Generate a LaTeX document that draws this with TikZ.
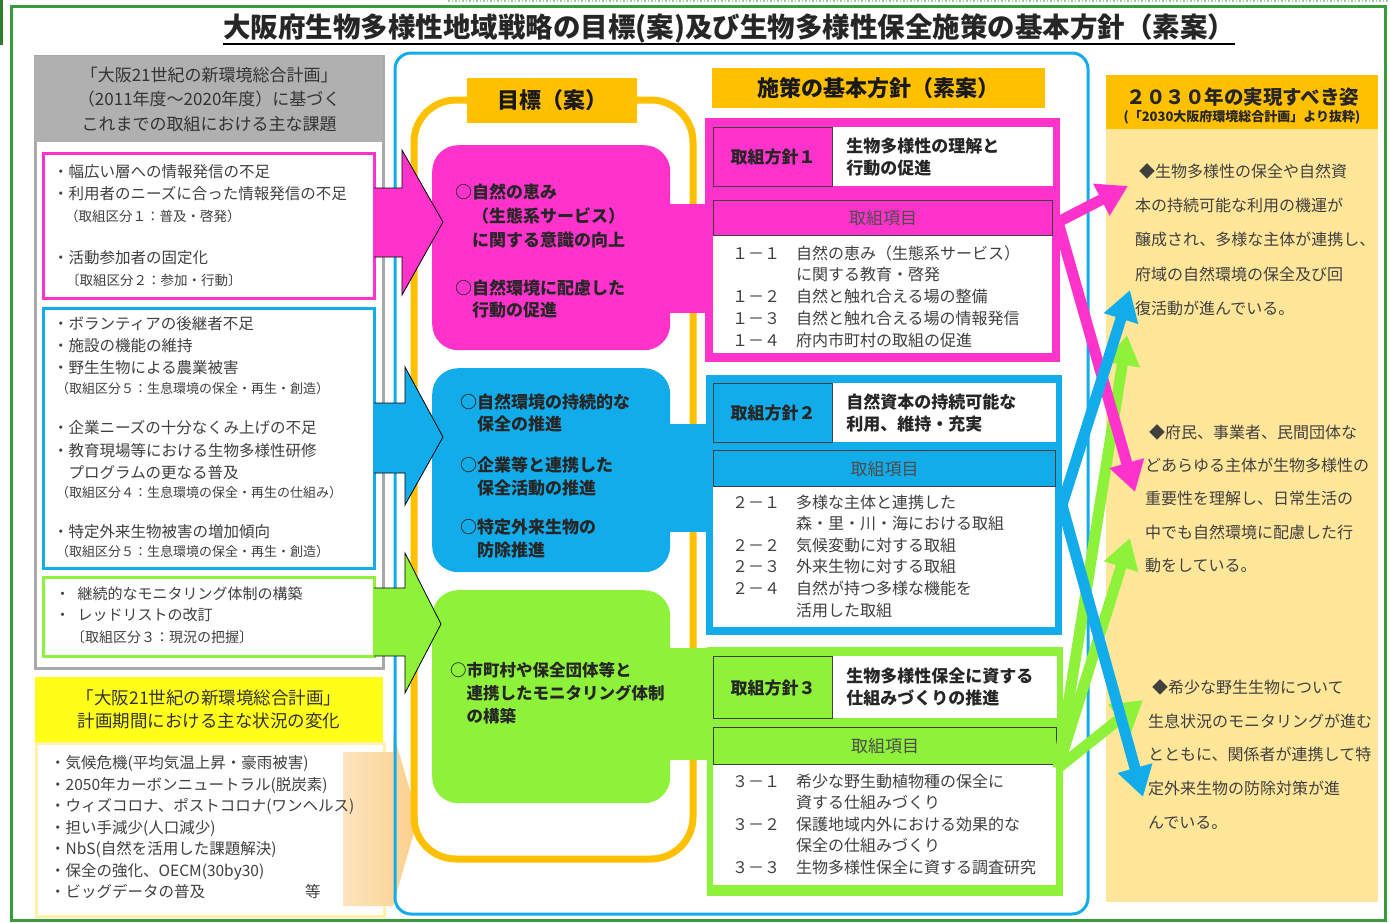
\documentclass[tikz,border=0pt]{standalone}
\usepackage{fontspec}
\setmainfont{Noto Sans CJK JP}
\usetikzlibrary{positioning,arrows.meta}

\definecolor{osakagreen}{HTML}{3A9B3A}
\definecolor{goalpink}{HTML}{FF33CC}
\definecolor{goalblue}{HTML}{12ACEA}
\definecolor{goalgreen}{HTML}{8EF23A}
\definecolor{goalorange}{HTML}{FFC000}
\definecolor{paleorange}{HTML}{FFE699}
\definecolor{headgray}{HTML}{B0B0B0}
\definecolor{framegray}{HTML}{A8A8A8}
\definecolor{headyellow}{HTML}{FFFF1A}
\definecolor{paleyellow}{HTML}{FFF3A8}
\definecolor{peach}{HTML}{FBCF8A}
\definecolor{textgray}{HTML}{404040}

\newcommand{\fsz}[2]{\fontsize{#1}{#2}\selectfont}

\begin{document}
\begin{tikzpicture}[x=1pt,y=-1pt]

\def\lw{3pt}
\def\tagw{119pt}

\tikzstyle{txt} = [inner sep=0pt,anchor=west,align=left,text=textgray];
\tikzstyle{boldtxt} = [inner sep=0pt,anchor=west,align=left,text=black!85];
\tikzstyle{issuebox} = [anchor=north west,inner sep=0pt,line width=\lw,fill=white];
\tikzstyle{goalbox} = [anchor=north west,inner sep=0pt,rounded corners=26pt];
\tikzstyle{plainbox} = [anchor=north west,inner sep=0pt];
\tikzstyle{tagbox} = [anchor=north west,inner sep=0pt,draw=black!75,line width=1.2pt,minimum width=\tagw,text=black!85];
\tikzstyle{barbox} = [anchor=north west,inner sep=0pt,draw=black!75,line width=1.2pt,text=black!70];
\tikzstyle{blockarrow} = [draw=black,line width=0.8pt];
\tikzstyle{bigarrow} = [line width=11pt,-{Triangle[width=34pt,length=30pt]}];

\useasboundingbox (0,0) rectangle (1390,922);

\draw [osakagreen,line width=3pt] (11,6) rectangle (1385,920);
\fill [osakagreen!80!black] (0,0) rectangle (3,45);
\draw [osakagreen!50,dotted,line width=1.5pt] (448,1) -- (1390,1);

\node [inner sep=0pt,font=\fsz{27.5}{30}\bfseries,text=black!85] (title) at (729,28) {大阪府生物多様性地域戦略の目標(案)及び生物多様性保全施策の基本方針（素案）};
\draw [line width=1.6pt] ([yshift=-1pt]title.south west) -- ([yshift=-1pt]title.south east);

\draw [framegray,line width=\lw] (35,56) rectangle (383,668);
\node [plainbox,fill=headgray,minimum width=348pt,minimum height=86pt] (issuehead) at (35,56) {};
\node [inner sep=0pt,align=center,font=\fsz{17}{24.5},text=black!80] (issuetitle) at (issuehead.center) {「大阪21世紀の新環境総合計画」\\（2011年度～2020年度）に基づく\\これまでの取組における主な課題};

\node [issuebox,draw=goalpink,minimum width=331pt,minimum height=145pt] (issue1) at (42,152) {};
\node [txt,font=\fsz{15.5}{22}] (issue1a) at (53,183) {・幅広い層への情報発信の不足\\・利用者のニーズに合った情報発信の不足};
\node [txt,font=\fsz{13.5}{20}] (issue1b) at (65,216) {（取組区分１：普及・啓発）};
\node [txt,font=\fsz{15.5}{22}] (issue1c) at (53,258) {・活動参加者の固定化};
\node [txt,font=\fsz{13.5}{20}] (issue1d) at (66,280) {〔取組区分２：参加・行動〕};

\node [issuebox,draw=goalblue,minimum width=331pt,minimum height=260pt] (issue2) at (42,307) {};
\node [txt,font=\fsz{15.5}{22}] (issue2a) at (53,346) {・ボランティアの後継者不足\\・施設の機能の維持\\・野生生物による農業被害};
\node [txt,font=\fsz{13}{20}] (issue2b) at (56,389) {（取組区分５：生息環境の保全・再生・創造）};
\node [txt,font=\fsz{15.5}{22.5}] (issue2c) at (53,450.5) {・企業ニーズの十分なくみ上げの不足\\・教育現場等における生物多様性研修\\　プログラムの更なる普及};
\node [txt,font=\fsz{13}{20}] (issue2d) at (56,493) {（取組区分４：生息環境の保全・再生の仕組み）};
\node [txt,font=\fsz{15.5}{22}] (issue2e) at (53,532) {・特定外来生物被害の増加傾向};
\node [txt,font=\fsz{13}{20}] (issue2f) at (56,552) {（取組区分５：生息環境の保全・再生・創造）};

\node [issuebox,draw=goalgreen,minimum width=331pt,minimum height=79pt] (issue3) at (42,576) {};
\node [txt,font=\fsz{15}{21}] (issue3a) at (55,604.5) {・\enspace 継続的なモニタリング体制の構築\\・\enspace レッドリストの改訂};
\node [txt,font=\fsz{14}{20}] (issue3b) at (71,637) {〔取組区分３：現況の把握〕};

\node [plainbox,fill=headyellow,minimum width=348pt,minimum height=65pt] (trendhead) at (35,677) {};
\node [inner sep=0pt,align=center,font=\fsz{17.5}{23},text=black!80] (trendtitle) at (trendhead.center) {「大阪21世紀の新環境総合計画」\\計画期間における主な状況の変化};
\node [plainbox,draw=paleyellow,line width=\lw,fill=white,minimum width=348pt,minimum height=173pt] (trendbody) at (35,742) {};

\shade [left color=peach!55!white,right color=peach] (343,752) -- (393,752) -- (393,732) -- (418,818) -- (393,906) -- (343,906) -- cycle;

\node [txt,font=\fsz{15.5}{21.5}] (trendlist) at (50,827.5) {・気候危機(平均気温上昇・豪雨被害)\\・2050年カーボンニュートラル(脱炭素)\\・ウィズコロナ、ポストコロナ(ワンヘルス)\\・担い手減少(人口減少)\\・NbS(自然を活用した課題解決)\\・保全の強化、OECM(30by30)\\・ビッグデータの普及};
\node [txt,font=\fsz{15.5}{21.5}] (trendetc) at (305,892) {等};

\draw [goalblue,line width=\lw,rounded corners=16pt] (395,53) rectangle (1088,914);

\draw [goalorange,line width=7pt,rounded corners=42pt] (414,100) rectangle (693,859);
\node [fill=goalorange,minimum width=170pt,minimum height=45pt,inner sep=0pt,font=\fsz{22}{26}\bfseries,text=black!90] (goaltitle) at (552,100) {目標（案）};

\node [goalbox,fill=goalpink,minimum width=238pt,minimum height=205pt] (goal1) at (432,145) {};
\node [goalbox,fill=goalblue,minimum width=238pt,minimum height=204pt] (goal2) at (432,368) {};
\node [goalbox,fill=goalgreen,minimum width=238pt,minimum height=213pt] (goal3) at (432,590) {};

\node [boldtxt,font=\fsz{17}{24}\bfseries] (goal1a) at (455,216) {○自然の恵み\\\hspace*{1em}（生態系サービス）\\\hspace*{1em}に関する意識の向上};
\node [boldtxt,font=\fsz{17}{22}\bfseries] (goal1b) at (455,299) {○自然環境に配慮した\\\hspace*{1em}行動の促進};
\node [boldtxt,font=\fsz{17}{22.5}\bfseries] (goal2a) at (460,413) {○自然環境の持続的な\\\hspace*{1em}保全の推進};
\node [boldtxt,font=\fsz{17}{22.5}\bfseries] (goal2b) at (460,476.5) {○企業等と連携した\\\hspace*{1em}保全活動の推進};
\node [boldtxt,font=\fsz{17}{22.5}\bfseries] (goal2c) at (460,538.5) {○特定外来生物の\\\hspace*{1em}防除推進};
\node [boldtxt,font=\fsz{16.5}{23}\bfseries] (goal3a) at (450,693) {○市町村や保全団体等と\\\hspace*{1em}連携したモニタリング体制\\\hspace*{1em}の構築};

\draw [blockarrow,fill=goalpink] (374,188) -- (402,188) -- (402,150) -- (443,222) -- (402,295) -- (402,257) -- (374,257);
\draw [blockarrow,fill=goalblue] (374,403) -- (405,403) -- (405,367) -- (443,437) -- (405,505) -- (405,473) -- (374,473);
\draw [blockarrow,fill=goalgreen] (374,588) -- (405,588) -- (405,553) -- (441,624) -- (405,693) -- (405,656) -- (374,656);

\fill [goalpink] (665,204) rectangle (708,313);
\fill [goalblue] (665,424) rectangle (708,532);
\fill [goalgreen] (665,648) rectangle (708,760);

\node [plainbox,fill=goalorange,minimum width=333pt,minimum height=40pt,font=\fsz{22}{26}\bfseries,text=black!90] (plantitle) at (712,68) {施策の基本方針（素案）};

\node [plainbox,fill=goalpink,minimum width=355pt,minimum height=244pt] (plan1) at (705,118) {};
\node [tagbox,fill=goalpink,minimum height=59pt,font=\fsz{17}{20}\bfseries] (plan1tag) at (713,127) {取組方針１};
\node [plainbox,fill=white,minimum width=220pt,minimum height=59pt] (plan1name) at (plan1tag.north east) {};
\node [boldtxt,font=\fsz{17}{22}\bfseries] (plan1text) at ([xshift=13pt]plan1name.west) {生物多様性の理解と\\行動の促進};
\node [plainbox,fill=white,minimum width=339pt,minimum height=118pt] (plan1list) at (713,235) {};
\node [barbox,fill=goalpink,minimum width=339pt,minimum height=35pt,font=\fsz{17}{20}] (plan1bar) at (713,200) {取組項目};
\node [txt,font=\fsz{16}{21.75}] (plan1items) at (732,296.5) {１－１　自然の恵み（生態系サービス）\\\hspace*{4em}に関する教育・啓発\\１－２　自然と触れ合える場の整備\\１－３　自然と触れ合える場の情報発信\\１－４　府内市町村の取組の促進};

\node [plainbox,fill=goalblue,minimum width=356pt,minimum height=260pt] (plan2) at (706,375) {};
\node [tagbox,fill=goalblue,minimum height=59pt,font=\fsz{17}{20}\bfseries] (plan2tag) at (713,383) {取組方針２};
\node [plainbox,fill=white,minimum width=223pt,minimum height=59pt] (plan2name) at (plan2tag.north east) {};
\node [boldtxt,font=\fsz{17}{22}\bfseries] (plan2text) at ([xshift=13pt]plan2name.west) {自然資本の持続可能な\\利用、維持・充実};
\node [plainbox,fill=white,minimum width=342pt,minimum height=141pt] (plan2list) at (713,486) {};
\node [barbox,fill=goalblue,minimum width=342pt,minimum height=36pt,font=\fsz{17}{20}] (plan2bar) at (713,450) {取組項目};
\node [txt,font=\fsz{16}{21.6}] (plan2items) at (732,556) {２－１　多様な主体と連携した\\\hspace*{4em}森・里・川・海における取組\\２－２　気候変動に対する取組\\２－３　外来生物に対する取組\\２－４　自然が持つ多様な機能を\\\hspace*{4em}活用した取組};

\node [plainbox,fill=goalgreen,minimum width=356pt,minimum height=249pt] (plan3) at (707,647) {};
\node [tagbox,fill=goalgreen,minimum height=62pt,font=\fsz{17}{20}\bfseries] (plan3tag) at (713,656) {取組方針３};
\node [plainbox,fill=white,minimum width=224pt,minimum height=62pt] (plan3name) at (plan3tag.north east) {};
\node [boldtxt,font=\fsz{17}{22}\bfseries] (plan3text) at ([xshift=13pt]plan3name.west) {生物多様性保全に資する\\仕組みづくりの推進};
\node [plainbox,fill=white,minimum width=343pt,minimum height=121pt] (plan3list) at (713,764) {};
\node [barbox,fill=goalgreen,minimum width=343pt,minimum height=37pt,font=\fsz{17}{20}] (plan3bar) at (713,727) {取組項目};
\node [txt,font=\fsz{16}{21.5}] (plan3items) at (732,824) {３－１　希少な野生動植物種の保全に\\\hspace*{4em}資する仕組みづくり\\３－２　保護地域内外における効果的な\\\hspace*{4em}保全の仕組みづくり\\３－３　生物多様性保全に資する調査研究};

\node [plainbox,fill=paleorange,minimum width=272pt,minimum height=827pt] (vision) at (1106,75) {};
\node [plainbox,fill=goalorange,minimum width=272pt,minimum height=54pt] (visionhead) at (1106,75) {};
\node [inner sep=0pt,font=\fsz{19.5}{22}\bfseries,text=black!85] (visiontitle) at (1243,97) {２０３０年の実現すべき姿};
\node [inner sep=0pt,font=\fsz{13}{15}\bfseries,text=black!85] (visionsub) at (1242,117) {(「2030大阪府環境総合計画」より抜粋)};
\node [txt,font=\fsz{16}{34.25},text=black!75] (vision1) at (1135,239.5) {\hspace*{4pt}◆生物多様性の保全や自然資\\本の持続可能な利用の機運が\\醸成され、多様な主体が連携し、\\府域の自然環境の保全及び回\\復活動が進んでいる。};
\node [txt,font=\fsz{16}{33.25},text=black!75] (vision2) at (1145,498.5) {\hspace*{4pt}◆府民、事業者、民間団体な\\どあらゆる主体が生物多様性の\\重要性を理解し、日常生活の\\中でも自然環境に配慮した行\\動をしている。};
\node [txt,font=\fsz{16}{33.75},text=black!75] (vision3) at (1148,754.5) {\hspace*{4pt}◆希少な野生生物について\\生息状況のモニタリングが進む\\とともに、関係者が連携して特\\定外来生物の防除対策が進\\んでいる。};

\coordinate (pinkfork) at (1058,222);
\coordinate (pinkup) at (1128,186);
\coordinate (pinkdown) at (1135,492);
\coordinate (bluefork) at (1062,505);
\coordinate (blueup) at (1130,290);
\coordinate (bluedown) at (1143,797);
\coordinate (greenfork) at (1058,768);
\coordinate (greenup) at (1127,335);
\coordinate (greenmid) at (1130,538);
\coordinate (greenright) at (1143,700);

\draw [bigarrow,goalgreen] (greenfork) -- (greenup);
\draw [bigarrow,goalgreen] (greenfork) -- (greenmid);
\draw [bigarrow,goalgreen] (greenfork) -- (greenright);
\draw [bigarrow,goalpink] (pinkfork) -- (pinkup);
\draw [bigarrow,goalpink] (pinkfork) -- (pinkdown);
\draw [bigarrow,goalblue] (bluefork) -- (blueup);
\draw [bigarrow,goalblue] (bluefork) -- (bluedown);

\end{tikzpicture}
\end{document}
